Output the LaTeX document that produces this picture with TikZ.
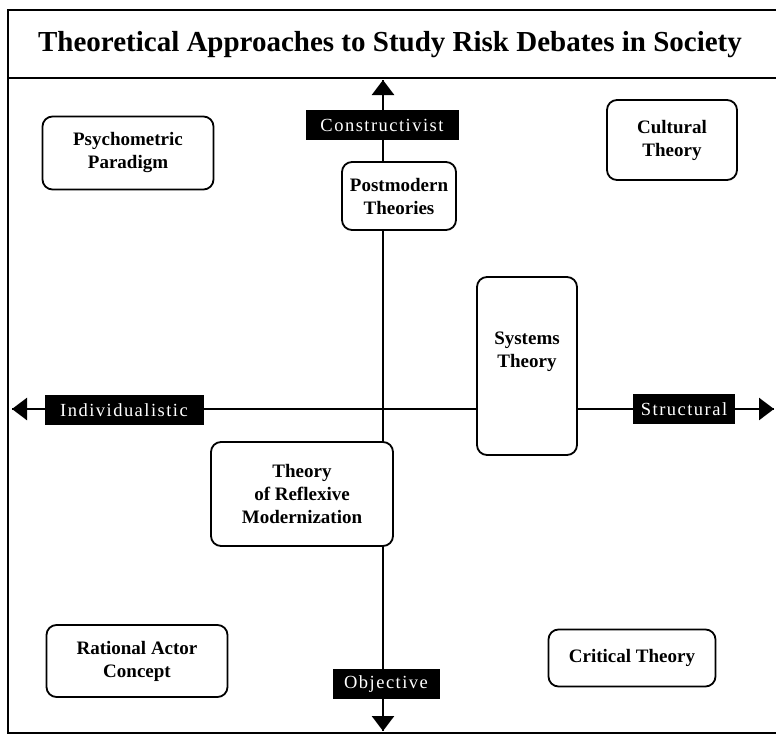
\documentclass[tikz,border=0pt]{standalone}
\usepackage{fontspec}
\setmainfont{Liberation Serif}
\newfontfamily\polefont[LetterSpace=8]{Liberation Serif}
\usetikzlibrary{arrows.meta}
\tikzset{
  >={Triangle[width=22pt,length=15pt]},
  axis/.style={line width=2.6pt},
  theory/.style={draw,line width=1.8pt,rounded corners=10pt,fill=white,
    align=center,inner sep=3pt,font=\fontsize{19}{23}\selectfont\bfseries},
  pole/.style={fill=black,text=white,inner sep=0pt,minimum height=30pt,
    font=\fontsize{18.5}{18.5}\selectfont\polefont},
}
\begin{document}
\begin{tikzpicture}[x=1pt,y=-1pt]
  \path[use as bounding box] (0,0) rectangle (776,736);
  % frame and title
  \draw[line width=1.8pt] (776,10) -- (8,10) -- (8,733) -- (776,733);
  \draw[line width=1.8pt] (8,78) -- (776,78);
  \node[font=\fontsize{29}{29}\selectfont\bfseries] (title) at (390,45)
    {Theoretical Approaches to Study Risk Debates in Society};
  % axes
  \coordinate (top) at (383,80);
  \coordinate (bottom) at (383,731);
  \coordinate (left) at (12,409);
  \coordinate (right) at (774,409);
  \draw[axis,->] (bottom) -- (top);
  \draw[axis,->] (left) -- (right);
  \draw[axis,->] (top) -- (bottom);
  \draw[axis,->] (right) -- (left);
  % poles
  \node[pole,minimum width=153pt] (constr) at (382,125) {Constructivist};
  \node[pole,minimum width=107pt] (object) at (386,684) {Objective};
  \node[pole,minimum width=159pt] (indiv) at (124,410) {Individualistic};
  \node[pole,minimum width=102pt] (struct) at (684,409) {Structural};
  % theories
  \node[theory,minimum width=171pt,minimum height=73pt] (psycho) at (128,153)
    {Psychometric\\Paradigm};
  \node[theory,minimum width=130pt,minimum height=80pt] (cult) at (672,140)
    {Cultural\\Theory};
  \node[theory,minimum width=114pt,minimum height=68pt] (postmod) at (399,196)
    {Postmodern\\Theories};
  \node[theory,minimum width=100pt,minimum height=178pt] (systems) at (527,366)
    {Systems\\Theory\\[10pt]};
  \node[theory,minimum width=182pt,minimum height=104pt] (reflex) at (302,494)
    {Theory\\of Reflexive\\Modernization};
  \node[theory,minimum width=181pt,minimum height=72pt] (ration) at (137,661)
    {Rational Actor\\Concept};
  \node[theory,minimum width=167pt,minimum height=57pt] (critic) at (632,658)
    {Critical Theory};
\end{tikzpicture}
\end{document}
